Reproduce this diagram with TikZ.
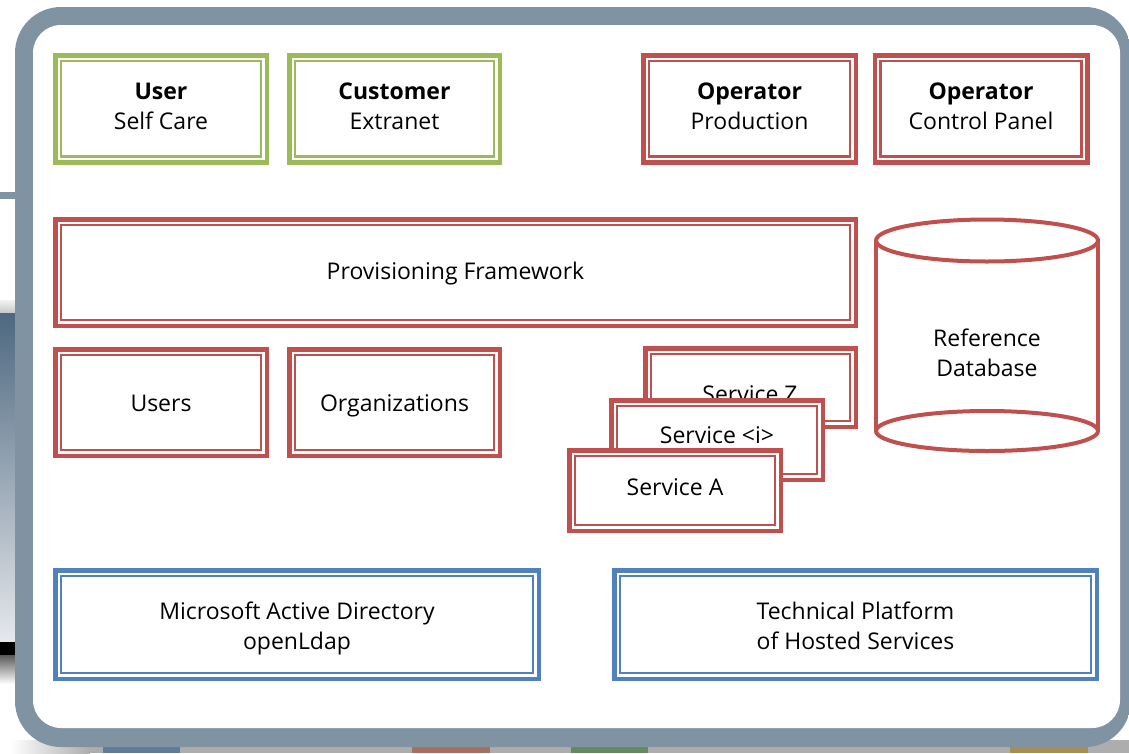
\documentclass[tikz,border=0pt]{standalone}
\usepackage{fontspec}
\setmainfont{Open Sans}
\definecolor{boxgreen}{HTML}{9BBB59}
\definecolor{boxred}{HTML}{C0504D}
\definecolor{boxblue}{HTML}{4F81BD}
\definecolor{frameedge}{HTML}{7F93A3}
\definecolor{framemid}{HTML}{AFB9C2}
\definecolor{shadowgray}{HTML}{ADADAD}
\definecolor{tabblue}{HTML}{5E7B9C}
\definecolor{tabred}{HTML}{A5705E}
\definecolor{tabgreen}{HTML}{628A5E}
\definecolor{tabgold}{HTML}{A88E52}
\definecolor{paneltop}{HTML}{4D6880}
\definecolor{panelmid}{HTML}{71869A}
\definecolor{panelbot}{HTML}{E6E8EC}
% name, cx, cy, w, h, colour, text, text centre y
\newcommand\dblbox[8]{%
  \node[dbox=#6, minimum width=#4pt, minimum height=#5pt] (#1) at (#2,#3) {};
  \draw[#6, line width=2.2pt] ([xshift=8pt,yshift=-8pt]#1.north west) rectangle ([xshift=-8pt,yshift=8pt]#1.south east);
  \node[lbl] (#1-text) at (#2,#8) {\strut #7\strut};}
\begin{document}
\begin{tikzpicture}[x=1pt,y=-1pt,
  every node/.style={font=\fontsize{23}{30}\selectfont, text=black},
  dbox/.style={draw=#1, line width=4.5pt, fill=white, inner sep=0pt},
  lbl/.style={align=center, inner sep=0pt}]
\useasboundingbox (0,0) rectangle (1129,753);
% left-side artefacts
\fill[frameedge] (0,192) rectangle (16,199);
\shade[top color=white!95!black, bottom color=black!22] (0,300) rectangle (16,313);
\shade[top color=paneltop, middle color=panelmid, bottom color=panelbot] (0,313) rectangle (16,642);
\fill[black] (0,642) rectangle (16,655);
\shade[top color=black!65, bottom color=white] (0,655) rectangle (16,684);
% shadow and tabs under the frame
\fill[shadowgray] (90,740) rectangle (1129,753);
\shade[left color=white, right color=shadowgray] (10,740) rectangle (90,753);
\fill[tabblue] (103,745) rectangle (180,753);
\fill[tabred] (412,745) rectangle (490,753);
\fill[tabgreen] (571,745) rectangle (648,753);
\fill[tabgold] (1010,745) rectangle (1088,753);
% frame
\shade[left color=frameedge, middle color=framemid, right color=frameedge, rounded corners=46pt] (15,7) rectangle (1131,747);
\fill[white, rounded corners=28pt] (33,25) rectangle (1120,728);
% top row
\dblbox{usc}{161}{108.75}{211.5}{107}{boxgreen}{\textbf{User}\\Self Care}{108.2}
\dblbox{cex}{394.5}{108.75}{210.5}{107}{boxgreen}{\textbf{Customer}\\Extranet}{108.2}
\dblbox{opp}{749.5}{108.75}{212.5}{107}{boxred}{\textbf{Operator}\\Production}{108.2}
\dblbox{opc}{981}{108.75}{212.5}{107}{boxred}{\textbf{Operator}\\Control Panel}{108.2}
% provisioning
\dblbox{prov}{455.5}{272.5}{800.5}{106.5}{boxred}{Provisioning Framework}{273}
\dblbox{users}{161}{402.5}{211.5}{106.5}{boxred}{Users}{405}
\dblbox{orgs}{394.5}{402.5}{210.5}{106.5}{boxred}{Organizations}{405}
% services
\dblbox{svcz}{750.5}{387.5}{210.5}{78.5}{boxred}{}{388}
\node[lbl, anchor=base] (svczt) at (750,402) {Service Z};
\dblbox{svci}{717}{440}{211.5}{79.5}{boxred}{Service <i>}{437.5}
\dblbox{svca}{675}{490.5}{211.5}{80.5}{boxred}{Service A}{489.5}
% reference database cylinder
\fill[white] (876,240.5) rectangle (1098,431);
\draw[boxred, line width=4pt] (876,240.5) -- (876,431);
\draw[boxred, line width=4pt] (1098,240.5) -- (1098,431);
\draw[boxred, line width=4pt, fill=white] (987,240.5) ellipse [x radius=111, y radius=21];
\draw[boxred, line width=4pt] (987,431) ellipse [x radius=111, y radius=20];
\node[lbl] (refdb) at (987,355.2) {\strut Reference\\Database\strut};
% bottom row
\dblbox{mad}{297}{624.5}{483.5}{108.5}{boxblue}{Microsoft Active Directory\\openLdap}{628.2}
\dblbox{tph}{855.5}{624.5}{482.5}{108.5}{boxblue}{Technical Platform\\of Hosted Services}{628.2}
\end{tikzpicture}
\end{document}
